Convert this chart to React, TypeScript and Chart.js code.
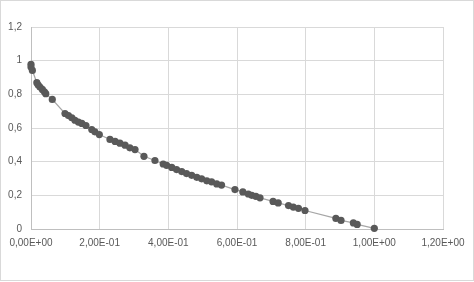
import React, { useEffect, useRef } from "react";
import { Chart, registerables } from "chart.js";

Chart.register(...registerables);

// Values
const xValues: number[] = [
  0.0, 0.0, 0.004, 0.017, 0.021, 0.026, 0.033, 0.039, 0.043, 0.062,
  0.099, 0.109, 0.119, 0.128, 0.138, 0.148, 0.160, 0.177, 0.186, 0.199,
  0.230, 0.245, 0.259, 0.274, 0.288, 0.303,
  0.329, 0.361, 0.385, 0.395, 0.410, 0.424, 0.439, 0.453, 0.468, 0.483, 0.497, 0.512, 0.526, 0.541, 0.555,
  0.594, 0.617, 0.633, 0.643, 0.655, 0.667,
  0.705, 0.720, 0.750, 0.764, 0.779, 0.798,
  0.888, 0.903, 0.939, 0.950, 1.0,
];
const yValues: number[] = [
  0.978, 0.962, 0.942, 0.869, 0.855, 0.843, 0.829, 0.815, 0.804, 0.770,
  0.686, 0.674, 0.661, 0.646, 0.635, 0.627, 0.615, 0.591, 0.577, 0.561,
  0.532, 0.520, 0.510, 0.498, 0.482, 0.472,
  0.432, 0.407, 0.386, 0.378, 0.366, 0.353, 0.341, 0.329, 0.319, 0.307, 0.298, 0.286, 0.280, 0.268, 0.261,
  0.234, 0.220, 0.208, 0.200, 0.194, 0.185,
  0.164, 0.155, 0.139, 0.130, 0.123, 0.110,
  0.063, 0.051, 0.036, 0.027, 0.004,
];
const xTickValues: number[] = [0, 0.2, 0.4, 0.6, 0.8, 1.0, 1.2];
const yTickValues: number[] = [0, 0.2, 0.4, 0.6, 0.8, 1.0, 1.2];

function fmtY(v: number): string {
  return String(Number(v.toFixed(1))).replace(".", ",");
}

function fmtX(v: number): string {
  const r = Number(v.toFixed(6));
  if (r === 0) return "0,00E+00";
  const exp = Math.floor(Math.log10(Math.abs(r)) + 1e-9);
  const mant = r / Math.pow(10, exp);
  const sign = exp < 0 ? "-" : "+";
  const e = String(Math.abs(exp)).padStart(2, "0");
  return mant.toFixed(2).replace(".", ",") + "E" + sign + e;
}

const borderPlugin = {
  id: "frame",
  beforeDraw(chart: any) {
    const ctx = chart.ctx;
    ctx.save();
    ctx.fillStyle = "#ffffff";
    ctx.fillRect(0, 0, chart.width, chart.height);
    ctx.restore();
  },
  afterDraw(chart: any) {
    const ctx = chart.ctx;
    ctx.save();
    ctx.strokeStyle = "#d9d9d9";
    ctx.lineWidth = 1;
    ctx.strokeRect(0.5, 0.5, 473, 280);
    ctx.restore();
  },
};

export default function App() {
  const ref = useRef<HTMLCanvasElement | null>(null);

  useEffect(() => {
    document.body.style.margin = "0";
    const canvas = ref.current;
    if (!canvas) return;
    const data = xValues.map((x, i) => ({ x, y: yValues[i] }));
    const font = { family: "'Liberation Sans', Arial, sans-serif", size: 10 };
    const chart = new Chart(canvas, {
      type: "scatter",
      data: {
        datasets: [
          {
            data,
            showLine: true,
            clip: false,
            borderColor: "#a6a6a6",
            borderWidth: 1.25,
            pointRadius: 3.6,
            pointBackgroundColor: "#595959",
            pointBorderColor: "#595959",
            pointBorderWidth: 0,
            tension: 0,
          },
        ],
      },
      options: {
        responsive: false,
        animation: false,
        events: [],
        layout: { padding: { top: 27, right: 31, bottom: 0, left: 0 } },
        plugins: {
          legend: { display: false },
          tooltip: { enabled: false },
        },
        scales: {
          x: {
            type: "linear",
            min: 0,
            max: 1.2,
            afterBuildTicks: (scale: any) => {
              scale.ticks = xTickValues.map((v) => ({ value: v }));
            },
            afterFit: (scale: any) => {
              scale.height = 53;
            },
            ticks: {
              color: "#595959",
              font,
              padding: 8,
              maxRotation: 0,
              autoSkip: false,
              callback: (v: any) => fmtX(Number(v)),
            },
            grid: { color: "#d9d9d9", drawTicks: false },
            border: { color: "#bfbfbf" },
          },
          y: {
            type: "linear",
            min: 0,
            max: 1.2,
            afterBuildTicks: (scale: any) => {
              scale.ticks = yTickValues.map((v) => ({ value: v }));
            },
            afterFit: (scale: any) => {
              scale.width = 31;
            },
            ticks: {
              color: "#595959",
              font,
              padding: 9,
              autoSkip: false,
              callback: (v: any) => fmtY(Number(v)),
            },
            grid: { color: "#d9d9d9", drawTicks: false },
            border: { color: "#bfbfbf" },
          },
        },
      },
      plugins: [borderPlugin],
    });
    return () => chart.destroy();
  }, []);

  return (
    <canvas
      ref={ref}
      width={474}
      height={282}
      style={{ display: "block", width: 474, height: 282 }}
    />
  );
}
